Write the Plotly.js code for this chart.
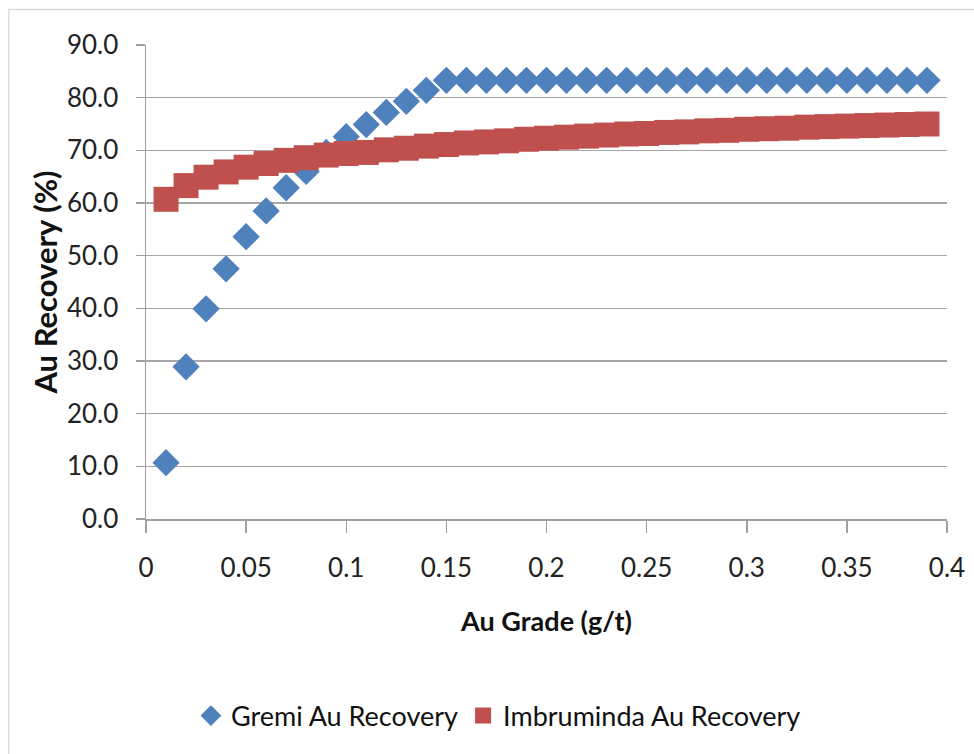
<!DOCTYPE html>
<html>
<head>
<meta charset="utf-8">
<script src="https://cdn.plot.ly/plotly-3.0.1.min.js"></script>
<style>
  html, body { margin: 0; padding: 0; background: #ffffff; }
  #chart { width: 974px; height: 754px; }
</style>
</head>
<body>
<div id="chart"></div>
<script>
// Au grade (g/t)
const grade = [0.01,0.02,0.03,0.04,0.05,0.06,0.07,0.08,0.09,0.10,
               0.11,0.12,0.13,0.14,0.15,0.16,0.17,0.18,0.19,0.20,
               0.21,0.22,0.23,0.24,0.25,0.26,0.27,0.28,0.29,0.30,
               0.31,0.32,0.33,0.34,0.35,0.36,0.37,0.38,0.39];
// Gremi Au Recovery (%)
const gremi = [10.7,28.9,39.9,47.5,53.6,58.5,62.9,66.0,69.6,72.6,
               74.9,77.2,79.3,81.4,83.3,83.3,83.3,83.3,83.3,83.3,
               83.3,83.3,83.3,83.3,83.3,83.3,83.3,83.3,83.3,83.3,
               83.3,83.3,83.3,83.3,83.3,83.3,83.3,83.3,83.3];
// Imbruminda Au Recovery (%)
const imbruminda = [60.7,63.3,64.9,65.9,66.8,67.5,68.1,68.6,69.1,69.4,
                    69.6,70.1,70.4,70.8,71.1,71.4,71.6,71.8,72.1,72.3,
                    72.5,72.7,72.9,73.1,73.2,73.4,73.5,73.7,73.8,74.0,
                    74.1,74.2,74.4,74.5,74.6,74.7,74.8,74.9,75.0];
const seriesNames = ["Gremi Au Recovery", "Imbruminda Au Recovery"];
const xTickVals = [0,0.05,0.1,0.15,0.2,0.25,0.3,0.35,0.4];
const xTickText = ["0","0.05","0.1","0.15","0.2","0.25","0.3","0.35","0.4"];
const yTickVals = [0,10,20,30,40,50,60,70,80,90];
const yTickText = ["0.0","10.0","20.0","30.0","40.0","50.0","60.0","70.0","80.0","90.0"];

const FONT = 'Lato, "Liberation Sans", sans-serif';

const traces = [
  {
    x: grade, y: gremi, name: seriesNames[0], type: 'scatter', mode: 'markers',
    marker: { symbol: 'diamond', size: 21, color: '#4F81BD' }
  },
  {
    x: grade, y: imbruminda, name: seriesNames[1], type: 'scatter', mode: 'markers',
    marker: { symbol: 'square', size: 25, color: '#C0504D' }
  }
];

const layout = {
  width: 974, height: 754,
  margin: { l: 146, r: 27, t: 45, b: 235, pad: 0 },
  paper_bgcolor: '#ffffff', plot_bgcolor: '#ffffff',
  font: { family: FONT, size: 26, color: '#222222' },
  showlegend: true,
  legend: {
    orientation: 'h', x: 0.44, xanchor: 'center', y: -0.4156, yanchor: 'middle',
    font: { family: FONT, size: 27, color: '#111111' },
    bgcolor: 'rgba(0,0,0,0)'
  },
  xaxis: {
    range: [0, 0.4], tickvals: xTickVals, ticktext: xTickText,
    showgrid: false, zeroline: false,
    showline: true, linecolor: '#a0a0a0', linewidth: 1.5,
    ticks: 'outside', ticklen: 12, tickcolor: '#a0a0a0', tickwidth: 1.5,
    ticklabelstandoff: 13,
    tickfont: { family: FONT, size: 26, color: '#222222' },
    title: { text: '<b>Au Grade (g/t)</b>', font: { family: FONT, size: 27, color: '#111111' }, standoff: 30 }
  },
  yaxis: {
    range: [0, 90], tickvals: yTickVals, ticktext: yTickText,
    showgrid: true, gridcolor: '#a6a6a6', gridwidth: 1.5,
    zeroline: false,
    showline: true, linecolor: '#a0a0a0', linewidth: 1.5,
    ticks: 'outside', ticklen: 9, tickcolor: '#a0a0a0', tickwidth: 1.5,
    ticklabelstandoff: 12,
    tickfont: { family: FONT, size: 26, color: '#222222' },
    title: { text: '<b>Au Recovery (%)</b>', font: { family: FONT, size: 31, color: '#111111' }, standoff: 0 }
  },
  shapes: [
    { type: 'rect', xref: 'paper', yref: 'paper',
      x0: -0.17125, x1: 1.05, y0: -0.52, y1: 1.0749,
      line: { color: '#dcdcdc', width: 1.5 }, fillcolor: 'rgba(0,0,0,0)', layer: 'below' }
  ]
};

Plotly.newPlot('chart', traces, layout, { displayModeBar: false, staticPlot: true });
</script>
</body>
</html>
